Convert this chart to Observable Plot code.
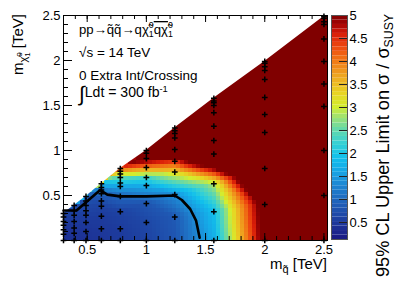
<!DOCTYPE html>
<html><head><meta charset="utf-8">
<script src="https://cdn.jsdelivr.net/npm/d3@7"></script>
<script src="https://cdn.jsdelivr.net/npm/@observablehq/plot@0.6"></script>
<style>
html,body{margin:0;padding:0;background:#fff;}
#chart{position:relative;width:399px;height:286px;font-family:"Liberation Sans",Arial,sans-serif;}
#chart svg{position:absolute;left:0;top:0;overflow:visible;}
</style></head><body><div id="chart"></div>
<script>
// squark mass columns (TeV)
const mSquark = [0.3, 0.39, 0.49, 0.62, 0.78, 1.0, 1.24, 1.57, 2.0, 2.5];
// neutralino masses sampled in each column (TeV)
const mNeutralino = [
  [0, 0.07, 0.12, 0.17, 0.21, 0.26, 0.3],
  [0, 0.08, 0.14, 0.21, 0.28, 0.33, 0.39],
  [0, 0.1, 0.2, 0.28, 0.33, 0.39, 0.44, 0.49],
  [0, 0.13, 0.27, 0.38, 0.44, 0.52, 0.56, 0.59, 0.63],
  [0, 0.13, 0.32, 0.49, 0.6, 0.64, 0.7, 0.74, 0.77, 0.8],
  [0, 0.2, 0.41, 0.61, 0.7, 0.81, 0.91, 0.97, 1.0],
  [0, 0.26, 0.51, 0.76, 0.88, 1.01, 1.14, 1.19, 1.22, 1.25],
  [0, 0.32, 0.63, 0.96, 1.11, 1.27, 1.42, 1.5, 1.53, 1.55, 1.58],
  [0, 0.4, 0.8, 1.2, 1.4, 1.59, 1.79, 1.89, 1.93, 1.97, 1.99],
  [0, 0.5, 1.0, 1.49, 1.74, 1.99, 2.24, 2.4, 2.43, 2.47, 2.49]
];
// 95% CL upper limit on sigma/sigma_SUSY at each point
const upperLimit = [
  [0.4, 0.4, 0.42, 0.45, 0.5, 0.55, 0.6],
  [0.4, 0.42, 0.45, 0.5, 0.55, 0.6, 0.7],
  [0.42, 0.45, 0.5, 0.55, 0.6, 0.65, 0.75, 0.85],
  [0.45, 0.48, 0.52, 0.6, 0.7, 1.0, 1.2, 1.5, 1.8],
  [0.5, 0.52, 0.6, 1.0, 1.6, 2.0, 2.5, 3.1, 3.7, 4.3],
  [0.6, 0.65, 0.8, 1.7, 2.3, 4.0, 5.2, 6.0, 6.0],
  [0.8, 0.85, 1.4, 3.3, 4.5, 6.5, 7, 7, 7, 7],
  [1.7, 1.9, 2.9, 7, 8, 8, 8, 8, 8, 8, 8],
  [5.3, 5.5, 8, 9, 9, 9, 9, 9, 9, 9, 9],
  [9, 9, 9, 9, 9, 9, 9, 9, 9, 9, 9]
];
// exclusion contour (limit = 1)
const contourMq   = [0.3, 0.41, 0.61, 0.67, 0.78, 1.0, 1.24, 1.3, 1.37, 1.42, 1.45];
const contourMchi = [0.333, 0.333, 0.56, 0.51, 0.49, 0.49, 0.5, 0.45, 0.35, 0.22, 0.03];
// axes
const xDomain = [0.3, 2.53];
const yDomain = [0, 2.5];
const xTickLabels = [0.5, 1, 1.5, 2, 2.5];
const yTickLabels = [0.5, 1, 1.5, 2, 2.5];
const xMinor = d3.range(3, 26).map(d => d / 10);
const yMinor = d3.range(1, 26).map(d => d / 10);
const zDomain = [0.13, 5];
const zTicks = [0.5, 1, 1.5, 2, 2.5, 3, 3.5, 4, 4.5, 5];
// palette stops
const zStops  = [0.13, 0.5, 0.8, 1.0, 1.3, 1.6, 1.9, 2.2, 2.5, 2.8, 3.0, 3.3, 3.6, 4.0, 4.3, 4.6, 4.8, 5.0];
const zColors = ["#1b1883", "#1d3a9c", "#1f55b1", "#1f68be", "#1e86d2", "#16a6e6", "#12c0ec", "#34d0d6", "#62d8ac", "#a2e26e", "#d2ee30", "#e8d422", "#eeb022", "#f07a16", "#ee4a10", "#d81c08", "#a30404", "#800000"];

const W = 399, H = 286;
const M = {top: 15, right: 72, bottom: 46, left: 63};
const frameW = W - M.left - M.right;
const frameH = H - M.top - M.bottom;

const points = [];
mSquark.forEach((mq, i) => mNeutralino[i].forEach((mc, j) => points.push({mq, mc, ul: upperLimit[i][j]})));
const boundary = mSquark.map((mq, i) => ({mq, top: d3.max(mNeutralino[i])}));
const contour = contourMq.map((mq, i) => ({mq, mc: contourMchi[i]}));

const colorOpts = {type: "linear", domain: zStops, range: zColors, interpolate: "rgb", clamp: true};
const font = "'Liberation Sans', Arial, sans-serif";

const main = Plot.plot({
  width: W, height: H,
  marginTop: M.top, marginRight: M.right, marginBottom: M.bottom, marginLeft: M.left,
  x: {domain: xDomain, axis: null},
  y: {domain: yDomain, axis: null},
  color: colorOpts,
  style: {fontFamily: font, fontSize: "13px", color: "black", background: "white"},
  marks: [
    Plot.raster(points, {x: "mq", y: "mc", fill: "ul", interpolate: "barycentric", pixelSize: 4, imageRendering: "pixelated"}),
    Plot.area(boundary, {x1: "mq", y1: "top", y2: () => yDomain[1], fill: "white"}),
    Plot.line(contour, {x: "mq", y: "mc", stroke: "black", strokeWidth: 2.6}),
    Plot.dot(points, {x: "mq", y: "mc", symbol: "plus", r: 2, stroke: "black", strokeWidth: 1.5}),
    Plot.tickX(xMinor, {x: d => d, insetTop: frameH - 4, stroke: "black"}),
    Plot.tickX(xTickLabels, {x: d => d, insetTop: frameH - 7, stroke: "black"}),
    Plot.tickX(xMinor, {x: d => d, insetBottom: frameH - 4, stroke: "black"}),
    Plot.tickX(xTickLabels, {x: d => d, insetBottom: frameH - 7, stroke: "black"}),
    Plot.tickY(yMinor, {y: d => d, insetRight: frameW - 5, stroke: "black"}),
    Plot.tickY(yTickLabels, {y: d => d, insetRight: frameW - 9, stroke: "black"}),
    Plot.axisX({ticks: xTickLabels, tickSize: 0, tickPadding: 4, fontSize: 13, label: null, tickFormat: d => String(d)}),
    Plot.axisY({ticks: yTickLabels, tickSize: 0, tickPadding: 3, fontSize: 13, label: null, tickFormat: d => String(d)}),
    Plot.frame({stroke: "black"})
  ]
});

const nBands = 50;
const dz = (zDomain[1] - zDomain[0]) / nBands;
const zBands = d3.range(nBands).map(i => zDomain[0] + i * dz);

const bar = Plot.plot({
  width: W, height: H,
  marginTop: 15, marginBottom: 47, marginLeft: 331, marginRight: 52,
  y: {domain: zDomain, axis: null},
  color: colorOpts,
  style: {fontFamily: font, fontSize: "13px", color: "black", background: "transparent"},
  marks: [
    Plot.rect(zBands, {y1: d => d, y2: d => d + dz, fill: d => d + dz / 2}),
    Plot.tickY(zTicks, {y: d => d, insetLeft: 8, stroke: "#222"}),
    Plot.axisY({anchor: "right", ticks: zTicks, tickSize: 0, tickPadding: 2, fontSize: 13, label: null, tickFormat: d => String(d)}),
    Plot.frame({stroke: "#555"})
  ]
});

const chart = document.getElementById("chart");
chart.appendChild(main);
chart.appendChild(bar);

// helper: append a text with styled pieces; optionally fit its length to a target width
function addText(svg, {x, y, rotate = 0, anchor = "start", size, parts, fit}) {
  const base = `translate(${x},${y})` + (rotate ? ` rotate(${rotate})` : "");
  const t = d3.select(svg).append("text")
    .attr("transform", base)
    .attr("x", 0).attr("y", 0)
    .style("font-family", font)
    .style("font-size", size + "px")
    .style("text-anchor", anchor)
    .style("fill", "black");
  for (const p of parts) {
    const s = t.append("tspan").text(p.t);
    if (p.size) s.style("font-size", p.size + "px");
    if (p.dx) s.attr("dx", p.dx);
    if (p.dy) s.attr("dy", p.dy);
    if (p.over) s.style("text-decoration", "overline");
  }
  if (fit) {
    const w = t.node().getBBox().width;
    if (w > 0) {
      const k = Math.max(0.8, Math.min(1.25, fit / w));
      t.attr("transform", base + ` scale(${k})`);
    }
  }
  return t;
}

addText(main, {x: 79, y: 34, size: 13.5, fit: 94, parts: [
  {t: "pp→q̃q̃→qχ̃"}, {t: "1", size: 9, dy: 3}, {t: "0", size: 9, dx: -5, dy: -9},
  {t: "qχ̃", dy: 6, over: true}, {t: "1", size: 9, dy: 3}, {t: "0", size: 9, dx: -5, dy: -9}
]});
addText(main, {x: 79, y: 57, size: 13.5, parts: [{t: "√s = 14 TeV"}]});
addText(main, {x: 79, y: 80, size: 13.5, parts: [{t: "0 Extra Int/Crossing"}]});
addText(main, {x: 79, y: 97, size: 13.5, fit: 90, parts: [
  {t: "∫", size: 20, dy: 4}, {t: "Ldt = 300 fb", dy: -4}, {t: "-1", size: 9, dy: -5}
]});
addText(main, {x: 327, y: 268.5, anchor: "end", size: 15, parts: [
  {t: "m"}, {t: "q̃", size: 11, dy: 4}, {t: " [TeV]", dy: -4}
]});
addText(main, {x: 23, y: 14, rotate: -90, anchor: "end", size: 15, parts: [
  {t: "m"}, {t: "χ̃", size: 11, dy: 4}, {t: "1", size: 8, dy: 3}, {t: "0", size: 8, dx: -4.5, dy: -8}, {t: " [TeV]", dy: 1}
]});
addText(bar, {x: 389, y: 14, rotate: -90, anchor: "end", size: 18.5, fit: 264, parts: [
  {t: "95% CL Upper Limit on σ / σ"}, {t: "SUSY", size: 12.5, dy: 4}
]});
</script></body></html>
